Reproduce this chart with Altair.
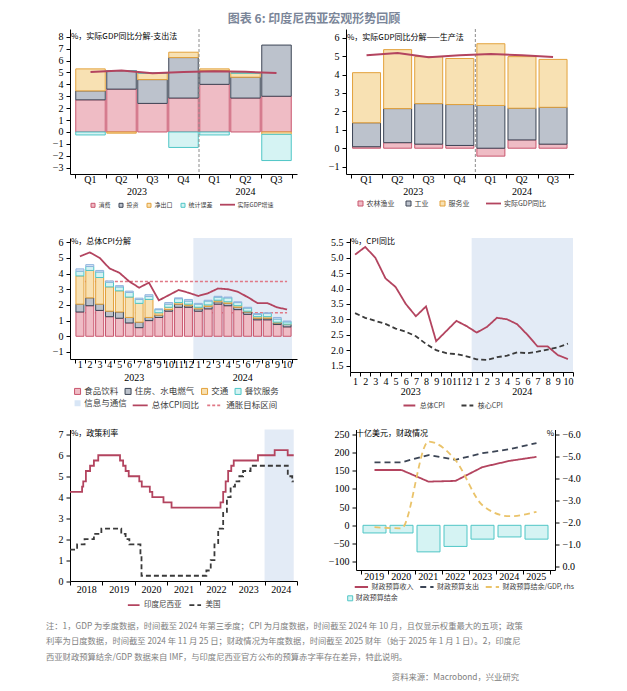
import json
from datetime import date
import altair as alt
import pandas as pd

SERIF = "Liberation Serif"
CN = "Noto Sans CJK SC"
INK = "#000000"
LEG_INK = "#404040"
LINE_RED = "#b3445f"
SHADE = "#e3ebf6"
RED_S, RED_F = "#c9566e", "#efbcc5"
DARK_S, DARK_F = "#3c4555", "#bcc2cc"
ORG_S, ORG_F = "#e3a23c", "#f8e1b3"
CYN_S, CYN_F = "#4fc6c6", "#d5f3f3"
BLU_S, BLU_F = "#8fb4de", "#d8e6f6"

# ---------------- data ----------------
q_labels = ["Q1", "Q2", "Q3", "Q4", "Q1", "Q2", "Q3"]
q_years = ["2023", "2023", "2023", "2023", "2024", "2024", "2024"]

p1_series = ["消费", "投资", "净出口", "统计误差"]
p1_consumption = [2.7, 3.6, 2.4, 2.85, 4.0, 2.85, 3.0]
p1_investment = [0.75, 1.55, 2.0, 3.4, 1.15, 1.75, 4.3]
p1_netexport = [1.85, -0.1, 0.55, 0.45, 0.15, 0.35, -0.2]
p1_discrepancy = [-0.25, 0.0, 0.0, -1.3, -0.25, 0.0, -2.2]
p1_gdp = [5.04, 5.17, 4.94, 5.04, 5.11, 5.05, 4.95]

p2_series = ["农林渔业", "工业", "服务业"]
p2_agri = [0.08, 0.3, 0.22, 0.15, -0.43, 0.45, 0.22]
p2_industry = [1.3, 1.85, 2.2, 2.22, 2.32, 1.72, 2.0]
p2_services = [2.72, 3.2, 2.55, 2.5, 3.35, 2.8, 2.6]
p2_gdp = [5.04, 5.17, 4.94, 5.04, 5.11, 5.05, 4.95]

m_labels = ["1", "2", "3", "4", "5", "6", "7", "8", "9", "10", "11", "12",
            "1", "2", "3", "4", "5", "6", "7", "8", "9", "10"]
m_years = ["2023"] * 12 + ["2024"] * 10
p3_series = ["食品饮料", "住房、水电燃气", "交通", "餐饮服务", "信息与通信"]
p3_food = [1.55, 1.95, 1.65, 1.25, 1.15, 0.85, 0.55, 1.0, 1.2, 1.6, 1.85, 1.85,
           1.6, 1.75, 2.05, 1.95, 1.7, 1.4, 1.05, 1.05, 0.75, 0.6]
p3_housing = [0.5, 0.5, 0.4, 0.35, 0.4, 0.35, 0.35, 0.2, 0.15, 0.1, 0.2, 0.1,
              0.15, 0.15, 0.15, 0.15, 0.15, 0.15, 0.1, 0.1, 0.1, 0.15]
p3_transport = [1.8, 1.75, 1.7, 1.55, 1.35, 1.3, 1.2, 1.15, 0.15, 0.15, 0.1, 0.1,
                0.1, 0.1, 0.1, 0.1, 0.1, 0.05, 0.1, 0.1, 0.05, 0.02]
p3_restaurant = [0.3, 0.25, 0.35, 0.3, 0.25, 0.3, 0.25, 0.2, 0.2, 0.2, 0.25, 0.2,
                 0.2, 0.25, 0.2, 0.25, 0.2, 0.2, 0.15, 0.2, 0.2, 0.15]
p3_info = [0.15, 0.12, 0.1, 0.08, 0.08, 0.08, 0.08, 0.1, 0.05, 0.1, 0.05, 0.1,
           0.05, 0.05, 0.05, 0.05, 0.05, 0.05, 0.05, 0.05, 0.1, 0.05]
cpi_headline = [5.1, 5.35, 5.0, 4.33, 4.05, 3.5, 3.1, 3.42, 2.29, 2.62, 2.95, 2.78,
                2.57, 2.75, 3.05, 3.0, 2.84, 2.5, 2.12, 2.12, 1.84, 1.71]
cpi_core = [3.2, 3.05, 2.95, 2.85, 2.7, 2.6, 2.45, 2.2, 2.0, 1.9, 1.87, 1.8,
            1.7, 1.68, 1.77, 1.82, 1.93, 1.9, 1.95, 2.02, 2.09, 2.21]
target_upper = 3.5
target_lower = 1.5

rate_years = ["2018", "2019", "2020", "2021", "2022", "2023", "2024"]
id_dates = ["2018-01-01", "2018-05-17", "2018-05-30", "2018-06-29", "2018-08-15", "2018-09-27",
            "2018-11-15", "2019-07-18", "2019-08-22", "2019-09-19", "2019-10-24", "2020-02-20",
            "2020-03-19", "2020-06-18", "2020-07-16", "2020-11-19", "2021-02-18", "2022-08-23",
            "2022-09-22", "2022-10-20", "2022-11-17", "2022-12-22", "2023-01-19", "2023-10-19",
            "2024-04-24", "2024-09-18", "2024-11-25"]
id_rates = [4.25, 4.5, 4.75, 5.25, 5.5, 5.75, 6.0, 5.75, 5.5, 5.25, 5.0, 4.75, 4.5, 4.25,
            4.0, 3.75, 3.5, 3.75, 4.25, 4.75, 5.25, 5.5, 5.75, 6.0, 6.25, 6.0, 6.0]
us_dates = ["2018-01-01", "2018-03-22", "2018-06-14", "2018-09-27", "2018-12-20", "2019-08-01",
            "2019-09-19", "2019-10-31", "2020-03-04", "2020-03-16", "2022-03-17", "2022-05-05",
            "2022-06-16", "2022-07-28", "2022-09-22", "2022-11-03", "2022-12-15", "2023-02-02",
            "2023-03-23", "2023-05-04", "2023-07-27", "2024-09-19", "2024-11-08", "2024-11-25"]
us_rates = [1.5, 1.75, 2.0, 2.25, 2.5, 2.25, 2.0, 1.75, 1.25, 0.25, 0.5, 1.0, 1.75, 2.5,
            3.25, 4.0, 4.5, 4.75, 5.0, 5.25, 5.5, 5.0, 4.75, 4.75]
rate_shade = ["2024-01-01", "2024-11-25"]

fis_years = ["2019", "2020", "2021", "2022", "2023", "2024", "2025"]
fis_revenue = [152, 152, 120, 122, 160, 177, 188]
fis_expenditure = [173, 173, 193, 180, 198, 209, 226]
fis_balance = [-21, -21, -73, -58, -38, -32, -38]
fis_balance_gdp = [-1.8, -1.75, -5.7, -4.85, -2.8, -2.3, -2.5]

notes = ["注：1，GDP 为季度数据，时间截至 2024 年第三季度；CPI 为月度数据，时间截至 2024 年 10 月，且仅显示权重最大的五项；政策",
         "利率为日度数据，时间截至 2024 年 11 月 25 日；财政情况为年度数据，时间截至 2025 财年（始于 2025 年 1 月 1 日）。2，印度尼",
         "西亚财政预算结余/GDP 数据来自 IMF，与印度尼西亚官方公布的预算赤字率存在差异，特此说明。"]
source = "资料来源：Macrobond，兴业研究"


# ---------------- helpers ----------------
def fy(s):
    d = date.fromisoformat(s)
    start = date(d.year, 1, 1)
    n = (date(d.year + 1, 1, 1) - start).days
    return d.year + (d - start).days / n


def cat_axis(labels, offset, pad):
    arr = json.dumps(labels)
    values = [i + 0.5 for i in range(len(labels) + 1)]
    expr = f"datum.value < 1 ? '' : {arr}[round(datum.value - 1.5)]"
    return alt.Axis(values=values, labelExpr=expr, labelOffset=offset, labelPadding=pad,
                    labelBaseline="middle", labelFlush=False, labelOverlap=False, labelBound=False,
                    grid=False, tickSize=4, labelFont=SERIF, labelFontSize=10)


def y_axis(values, ext, fmt="", orient="left"):
    kw = dict(values=values, minExtent=ext, grid=False, tickSize=4, labelPadding=3,
              labelFont=SERIF, labelFontSize=10, orient=orient, labelOverlap=False)
    if fmt:
        kw["format"] = fmt
    return alt.Axis(**kw)


def legend(x, y, fs, kind, size, colpad, n, offset=2.5, **extra):
    kw = dict(orient="none", legendX=x, legendY=y, direction="horizontal", columns=n,
              symbolType="square" if kind == "bar" else "stroke", symbolSize=size,
              symbolStrokeWidth=1 if kind == "bar" else 1.8,
              labelFont=CN, labelFontSize=fs, labelColor=LEG_INK, labelOffset=offset,
              columnPadding=colpad, padding=0)
    kw.update(extra)
    return alt.Legend(**kw)


def stacked(series, arrays):
    rows = []
    for k, (name, vals) in enumerate(zip(series, arrays)):
        for i, v in enumerate(vals):
            rows.append({"x": i + 1, "series": name, "k": k, "value": v})
    return pd.DataFrame(rows)


def year_centers(years):
    grp = {}
    for i, yv in enumerate(years):
        grp.setdefault(yv, []).append(i + 1)
    return pd.DataFrame({"x": [sum(v) / len(v) for v in grp.values()], "label": list(grp.keys())})


def title_text(t, x, y, align="left"):
    return alt.Chart(pd.DataFrame({"t": [t]})).mark_text(
        align=align, baseline="middle", font=CN, fontSize=8, color=INK
    ).encode(x=alt.value(x), y=alt.value(y), text="t:N")


def X(field, sc, ax):
    return alt.X(f"{field}:Q", scale=sc, axis=ax, title=None)


def Y(field, sc, ax, **kw):
    return alt.Y(f"{field}:Q", scale=sc, axis=ax, title=None, **kw)


CH = ["fill", "stroke", "color", "strokeDash", "opacity"]


def indep(c):
    return c.resolve_scale(x="independent", y="independent", **{k: "independent" for k in CH}).resolve_legend(
        **{k: "independent" for k in CH})


# ---------------- panel 1 ----------------
W1, H1 = 227, 145
xs1 = alt.Scale(domain=[0.5, 7.5], nice=False, zero=False)
ys1 = alt.Scale(domain=[-3.53, 8.65], nice=False, zero=False)
ax1 = cat_axis(q_labels, -W1 / 14, 1.5)
ay1 = y_axis(list(range(-3, 9)), 62)
df1 = stacked(p1_series, [p1_consumption, p1_investment, p1_netexport, p1_discrepancy])
leg1b = legend(20, 173.3, 6, "bar", 16, 6, len(p1_series))
leg1l = legend(149, 167.2, 6, "line", 225, 6, 1, offset=1.5)
split1 = pd.DataFrame({"x": [q_years.index("2024") + 0.5]})
p1 = alt.layer(
    alt.Chart(df1).mark_bar(size=29.5, orient="vertical", strokeWidth=1).encode(
        x=X("x", xs1, ax1), y=Y("value", ys1, ay1, stack="zero"),
        fill=alt.Fill("series:N", scale=alt.Scale(domain=p1_series, range=[RED_F, DARK_F, ORG_F, CYN_F]), legend=leg1b, title=None),
        stroke=alt.Stroke("series:N", scale=alt.Scale(domain=p1_series, range=[RED_S, DARK_S, ORG_S, CYN_S]), legend=leg1b, title=None),
        order=alt.Order("k:Q")),
    alt.Chart(split1).mark_rule(color="#8c8c8c", strokeDash=[3, 2], strokeWidth=1).encode(
        x=X("x", xs1, ax1), y=alt.value(0), y2=alt.value(H1)),
    alt.Chart(pd.DataFrame({"x": list(range(1, 8)), "value": p1_gdp, "series": "实际GDP增速"})).mark_line(strokeWidth=2).encode(
        x=X("x", xs1, ax1), y=Y("value", ys1, ay1),
        color=alt.Color("series:N", scale=alt.Scale(domain=["实际GDP增速"], range=[LINE_RED]), legend=leg1l, title=None)),
    title_text("%，实际GDP同比分解-支出法", 1, 7.7),
    alt.Chart(year_centers(q_years)).mark_text(font=SERIF, fontSize=10, baseline="middle", color=INK).encode(
        x=X("x", xs1, ax1), y=alt.value(H1 + 18), text="label:N"),
).properties(width=W1, height=H1)

# ---------------- panel 2 ----------------
W2, H2 = 227.6, 145
xs2 = alt.Scale(domain=[0.5, 7.5], nice=False, zero=False)
ys2 = alt.Scale(domain=[-1.4, 6.47], nice=False, zero=False)
ax2 = cat_axis(q_labels, -W2 / 14, 1.5)
ay2 = y_axis(list(range(-1, 7)), 38.7)
df2 = stacked(p2_series, [p2_agri, p2_industry, p2_services])
leg2b = legend(11, 171, 7, "bar", 25, 9, len(p2_series))
leg2l = legend(139, 166, 7, "line", 225, 6, 1, offset=2)
p2 = alt.layer(
    alt.Chart(df2).mark_bar(size=28, orient="vertical", strokeWidth=1).encode(
        x=X("x", xs2, ax2), y=Y("value", ys2, ay2, stack="zero"),
        fill=alt.Fill("series:N", scale=alt.Scale(domain=p2_series, range=[RED_F, DARK_F, ORG_F]), legend=leg2b, title=None),
        stroke=alt.Stroke("series:N", scale=alt.Scale(domain=p2_series, range=[RED_S, DARK_S, ORG_S]), legend=leg2b, title=None),
        order=alt.Order("k:Q")),
    alt.Chart(pd.DataFrame({"x": [q_years.index("2024") + 0.5]})).mark_rule(color="#8c8c8c", strokeDash=[3, 2], strokeWidth=1).encode(
        x=X("x", xs2, ax2), y=alt.value(0), y2=alt.value(H2)),
    alt.Chart(pd.DataFrame({"x": list(range(1, 8)), "value": p2_gdp, "series": "实际GDP同比"})).mark_line(strokeWidth=2).encode(
        x=X("x", xs2, ax2), y=Y("value", ys2, ay2),
        color=alt.Color("series:N", scale=alt.Scale(domain=["实际GDP同比"], range=[LINE_RED]), legend=leg2l, title=None)),
    title_text("%，实际GDP同比分解——生产法", 1, 8.7),
    alt.Chart(year_centers(q_years)).mark_text(font=SERIF, fontSize=10, baseline="middle", color=INK).encode(
        x=X("x", xs2, ax2), y=alt.value(H2 + 18), text="label:N"),
).properties(width=W2, height=H2)

# ---------------- panel 3 ----------------
W3, H3 = 227, 121
nm = len(m_labels)
xs3 = alt.Scale(domain=[0.5, nm + 0.5], nice=False, zero=False)
ys3 = alt.Scale(domain=[-1.45, 6.27], nice=False, zero=False)
ax3 = cat_axis(m_labels, -W3 / nm / 2, 1.3)
ay3 = y_axis(list(range(-1, 7)), 62)
df3 = stacked(p3_series, [p3_food, p3_housing, p3_transport, p3_restaurant, p3_info])
main3 = p3_series[:4]
last3 = p3_series[4]
shade3 = pd.DataFrame({"x0": [m_years.index("2024") + 0.5], "x1": [nm + 0.5]})
line_dom3 = ["总体CPI同比", "通胀目标区间"]
leg3b = legend(3.3, 148.8, 8.5, "bar", 36, 4.5, len(main3), offset=2.4)
leg3i = legend(3.3, 161, 8.5, "bar", 36, 4.5, 1, offset=2.4, symbolFillColor=BLU_F, symbolStrokeColor=BLU_S)
leg3l = legend(61.7, 158.8, 8.5, "line", 225, 3.5, len(line_dom3), offset=3)
col3 = alt.Color("series:N", scale=alt.Scale(domain=line_dom3, range=[LINE_RED, "#e07886"]), legend=leg3l, title=None)
dash3 = alt.StrokeDash("series:N", scale=alt.Scale(domain=line_dom3, range=[[1, 0], [3, 2]]), legend=leg3l, title=None)
tgt = pd.DataFrame({"x": [1, nm, 1, nm], "value": [target_upper, target_upper, target_lower, target_lower],
                    "series": "通胀目标区间", "id": ["u", "u", "l", "l"]})
stack3 = alt.Chart(df3).transform_stack(stack="value", groupby=["x"], as_=["y0", "y1"],
                                        sort=[alt.SortField("k", order="ascending")])
p3 = alt.layer(
    alt.Chart(shade3).mark_rect(color=SHADE).encode(x=X("x0", xs3, ax3), x2="x1:Q", y=alt.value(0), y2=alt.value(H3)),
    alt.Chart(tgt).mark_line(strokeWidth=1.5).encode(
        x=X("x", xs3, ax3), y=Y("value", ys3, ay3), color=col3, strokeDash=dash3, detail="id:N"),
    stack3.transform_filter(alt.datum.k < 4).mark_bar(size=8, orient="vertical", strokeWidth=1).encode(
        x=X("x", xs3, ax3), y=Y("y0", ys3, ay3), y2="y1:Q",
        fill=alt.Fill("series:N", scale=alt.Scale(domain=main3, range=[RED_F, DARK_F, ORG_F, CYN_F]), legend=leg3b, title=None),
        stroke=alt.Stroke("series:N", scale=alt.Scale(domain=main3, range=[RED_S, DARK_S, ORG_S, CYN_S]), legend=leg3b, title=None)),
    stack3.transform_filter(alt.datum.k == 4).mark_bar(size=8, orient="vertical", strokeWidth=1, fill=BLU_F, stroke=BLU_S).encode(
        x=X("x", xs3, ax3), y=Y("y0", ys3, ay3), y2="y1:Q",
        opacity=alt.Opacity("series:O", scale=alt.Scale(domain=[last3], range=[1]), legend=leg3i, title=None)),
    alt.Chart(pd.DataFrame({"x": list(range(1, nm + 1)), "value": cpi_headline, "series": "总体CPI同比", "id": "c"})).mark_line(strokeWidth=1.8).encode(
        x=X("x", xs3, ax3), y=Y("value", ys3, ay3), color=col3, strokeDash=dash3, detail="id:N"),
    title_text("%，总体CPI分解", 1, 4.3),
    alt.Chart(year_centers(m_years)).mark_text(font=SERIF, fontSize=10, baseline="middle", color=INK).encode(
        x=X("x", xs3, ax3), y=alt.value(H3 + 19), text="label:N"),
).properties(width=W3, height=H3)

# ---------------- panel 4 ----------------
W4, H4 = 223, 134
xs4 = alt.Scale(domain=[0.5, nm + 0.5], nice=False, zero=False)
ys4 = alt.Scale(domain=[1.29, 5.64], nice=False, zero=False)
ax4 = cat_axis(m_labels, -W4 / nm / 2, 5.3)
ay4 = y_axis([1.5, 2.0, 2.5, 3.0, 3.5, 4.0, 4.5, 5.0, 5.5], 42.3, fmt=".1f")
dom4 = ["总体CPI", "核心CPI"]
leg4 = legend(52.4, 160.3, 7, "line", 140, 12, len(dom4), offset=3.4)
df4 = pd.DataFrame({"x": list(range(1, nm + 1)) * 2, "value": cpi_headline + cpi_core,
                    "series": ["总体CPI"] * nm + ["核心CPI"] * nm})
p4 = alt.layer(
    alt.Chart(pd.DataFrame({"x0": [m_years.index("2024") + 0.5], "x1": [nm + 0.5]})).mark_rect(color=SHADE).encode(
        x=X("x0", xs4, ax4), x2="x1:Q", y=alt.value(0), y2=alt.value(H4)),
    alt.Chart(df4).mark_line(strokeWidth=1.8).encode(
        x=X("x", xs4, ax4), y=Y("value", ys4, ay4),
        color=alt.Color("series:N", scale=alt.Scale(domain=dom4, range=[LINE_RED, "#3a3a3a"]), legend=leg4, title=None),
        strokeDash=alt.StrokeDash("series:N", scale=alt.Scale(domain=dom4, range=[[1, 0], [5, 3]]), legend=leg4, title=None)),
    title_text("%，CPI同比", 1, 4.3),
    alt.Chart(year_centers(m_years)).mark_text(font=SERIF, fontSize=10, baseline="middle", color=INK).encode(
        x=X("x", xs4, ax4), y=alt.value(H4 + 19.5), text="label:N"),
).properties(width=W4, height=H4)

# ---------------- panel 5 ----------------
W5, H5 = 227, 151.5
y0 = int(rate_years[0])
ny = len(rate_years)
xs5 = alt.Scale(domain=[y0, y0 + ny], nice=False, zero=False)
ys5 = alt.Scale(domain=[0, 7.23], nice=False, zero=False)
ax5 = alt.Axis(values=list(range(y0, y0 + ny + 1)),
               labelExpr=f"datum.value < {y0 + 0.5} ? '' : {json.dumps(rate_years)}[round(datum.value - {y0 + 1})]",
               labelOffset=-W5 / ny / 2, labelPadding=4.3, labelBaseline="middle", labelFlush=False,
               labelOverlap=False, labelBound=False, grid=False, tickSize=4, labelFont=SERIF, labelFontSize=10)
ay5 = y_axis(list(range(0, 8)), 62)
dom5 = ["印度尼西亚", "美国"]
leg5 = legend(56.7, 168.5, 7.5, "line", 137, 3.5, len(dom5), offset=3.4)
df5 = pd.DataFrame({"x": [fy(d) for d in id_dates] + [fy(d) for d in us_dates],
                    "value": id_rates + us_rates,
                    "series": ["印度尼西亚"] * len(id_dates) + ["美国"] * len(us_dates)})
p5 = alt.layer(
    alt.Chart(pd.DataFrame({"x0": [fy(rate_shade[0])], "x1": [fy(rate_shade[1])]})).mark_rect(color=SHADE).encode(
        x=X("x0", xs5, ax5), x2="x1:Q", y=alt.value(0), y2=alt.value(H5)),
    alt.Chart(df5).mark_line(strokeWidth=1.8, interpolate="step-after").encode(
        x=X("x", xs5, ax5), y=Y("value", ys5, ay5),
        color=alt.Color("series:N", scale=alt.Scale(domain=dom5, range=[LINE_RED, "#3a3a3a"]), legend=leg5, title=None),
        strokeDash=alt.StrokeDash("series:N", scale=alt.Scale(domain=dom5, range=[[1, 0], [5, 3]]), legend=leg5, title=None)),
    title_text("%，政策利率", 1, 4.8),
).properties(width=W5, height=H5)

# ---------------- panel 6 ----------------
W6, H6 = 199, 140.5
nf = len(fis_years)
xs6 = alt.Scale(domain=[0.5, nf + 0.5], nice=False, zero=False)
ys6 = alt.Scale(domain=[-122.8, 263.2], nice=False, zero=False)
ys6r = alt.Scale(domain=[0.15, -6.25], nice=False, zero=False)
ax6 = cat_axis(fis_years, -W6 / nf / 2, 2)
ay6 = y_axis(list(range(-100, 251, 50)), 47.3)
ay6r = y_axis([0, -1, -2, -3, -4, -5, -6], 10, fmt=".1f", orient="right")
dom6 = ["财政预算收入", "财政预算支出", "财政预算结余/GDP, rhs"]
leg6l = legend(-2.6, 149.3, 7, "line", 177, 2.5, len(dom6), offset=2)
leg6b = legend(-9.3, 165.3, 7, "bar", 25, 3, 1, offset=2)
col6 = alt.Color("series:N", scale=alt.Scale(domain=dom6, range=[LINE_RED, "#3c4555", "#eac36a"]), legend=leg6l, title=None)
dash6 = alt.StrokeDash("series:N", scale=alt.Scale(domain=dom6, range=[[1, 0], [6, 4], [6, 4]]), legend=leg6l, title=None)
xi = list(range(1, nf + 1))
left6 = alt.layer(
    alt.Chart(pd.DataFrame({"x": xi, "value": fis_balance, "series": "财政预算结余"})).mark_bar(size=23, orient="vertical", strokeWidth=1).encode(
        x=X("x", xs6, ax6), y=Y("value", ys6, ay6),
        fill=alt.Fill("series:N", scale=alt.Scale(domain=["财政预算结余"], range=[CYN_F]), legend=leg6b, title=None),
        stroke=alt.Stroke("series:N", scale=alt.Scale(domain=["财政预算结余"], range=[CYN_S]), legend=leg6b, title=None)),
    alt.Chart(pd.DataFrame({"x": xi * 2, "value": fis_revenue + fis_expenditure,
                            "series": [dom6[0]] * nf + [dom6[1]] * nf})).mark_line(strokeWidth=1.8).encode(
        x=X("x", xs6, ax6), y=Y("value", ys6, ay6), color=col6, strokeDash=dash6),
    title_text("十亿美元，财政情况", 0, 4.8),
    title_text("%", W6 - 1, 4.8, align="right"),
)
right6 = alt.Chart(pd.DataFrame({"x": xi, "value": fis_balance_gdp, "series": dom6[2]})).mark_line(
    strokeWidth=1.8, interpolate="monotone").encode(
    x=X("x", xs6, ax6), y=Y("value", ys6r, ay6r), color=col6, strokeDash=dash6)
p6 = alt.layer(left6, right6).resolve_scale(y="independent").properties(width=W6, height=H6)

# ---------------- footnote ----------------
fs = alt.Scale(domain=[0, 3.3], range=[15, 66], nice=False, zero=False)
fax = alt.Axis(minExtent=62, labels=False, ticks=False, domain=False, grid=False)
foot = alt.layer(
    alt.Chart(pd.DataFrame({"row": list(range(len(notes))), "text": notes})).mark_text(
        align="left", baseline="middle", font=CN, fontSize=8.3, color="#808080").encode(
        x=alt.value(-24), y=alt.Y("row:Q", scale=fs, axis=fax, title=None), text="text:N"),
    alt.Chart(pd.DataFrame({"row": [3.3], "text": [source]})).mark_text(
        align="right", baseline="middle", font=CN, fontSize=8.3, color="#808080").encode(
        x=alt.value(449), y=alt.Y("row:Q", scale=fs, axis=fax, title=None), text="text:N"),
).properties(width=449, height=72)

row1 = indep(alt.hconcat(p1, p2, spacing=10))
row2 = indep(alt.hconcat(p3, p4, spacing=10))
row3 = indep(alt.hconcat(p5, p6, spacing=10))
top = indep(alt.vconcat(row1, row2, spacing=27))
bottom = indep(alt.vconcat(row3, foot, spacing=2.5))
chart = indep(alt.vconcat(top, bottom, spacing=18.5)).properties(
    title=alt.TitleParams("图表 6: 印度尼西亚宏观形势回顾", fontSize=12, font=CN, fontWeight="bold",
                          color="#7b8699", anchor="middle", offset=2.7, dx=20),
    padding={"top": 4, "left": 0, "right": 0, "bottom": 0},
).configure_view(strokeWidth=0).configure_axis(
    domainColor=INK, tickColor=INK, labelColor=INK, domainWidth=1, tickWidth=1
)

chart.save("out.html", embed_options={"renderer": "svg", "actions": False})
